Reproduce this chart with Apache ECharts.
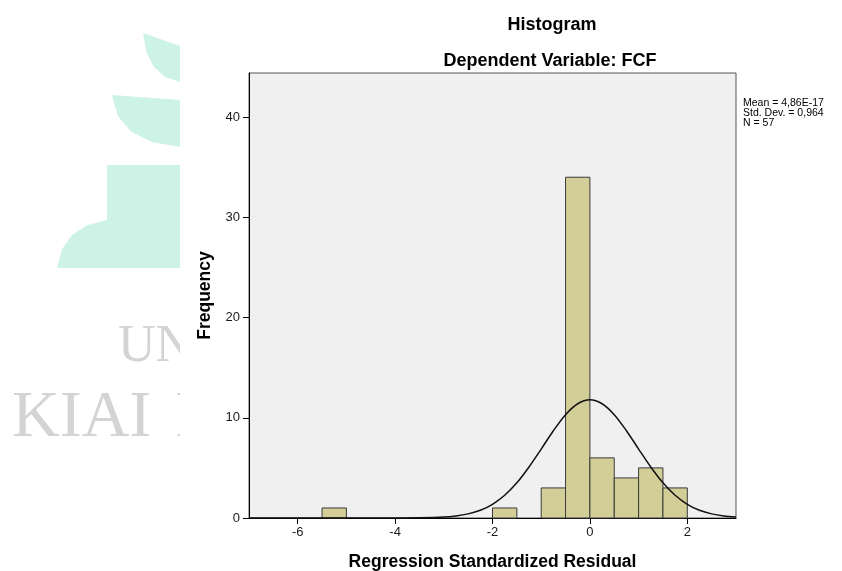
<!DOCTYPE html>
<html>
<head>
<meta charset="utf-8">
<script src="https://cdn.jsdelivr.net/npm/echarts@6/dist/echarts.min.js"></script>
<style>
html,body{margin:0;padding:0;background:#fff;}
#c{width:842px;height:571px;}
</style>
</head>
<body>
<div id="c"></div>
<script>
// Histogram bins (regression standardized residual) and frequencies
var binStart = [-5.5, -2.0, -1.0, -0.5, 0.0, 0.5, 1.0, 1.5];
var binEnd   = [-5.0, -1.5, -0.5,  0.0, 0.5, 1.0, 1.5, 2.0];
var counts   = [1, 1, 3, 34, 6, 4, 5, 3];

// Normal curve points
var curveX = [-7, -6, -5, -4.5, -4, -3.5, -3, -2.75, -2.5, -2.25, -2, -1.75, -1.5, -1.25, -1, -0.75, -0.5, -0.25, 0, 0.25, 0.5, 0.75, 1, 1.25, 1.5, 1.75, 2, 2.25, 2.5, 2.75, 3];
var curveY = [0, 0, 0, 0, 0.002, 0.02, 0.09, 0.2, 0.41, 0.77, 1.37, 2.27, 3.51, 5.09, 6.88, 8.71, 10.31, 11.4, 11.79, 11.4, 10.31, 8.71, 6.88, 5.09, 3.51, 2.27, 1.37, 0.77, 0.41, 0.2, 0.09];

var xTicks = [-6, -4, -2, 0, 2];
var yTicks = [0, 10, 20, 30, 40];

var titleText = 'Histogram';
var subTitleText = 'Dependent Variable: FCF';
var xName = 'Regression Standardized Residual';
var yName = 'Frequency';
var statsText = ['Mean = 4,86E-17', 'Std. Dev. = 0,964', 'N = 57'];

var barData = binStart.map(function (s, i) { return [s, binEnd[i], counts[i]]; });
var curveData = curveX.map(function (x, i) { return [x, curveY[i]]; });

var FONT = '"Liberation Sans", Arial, sans-serif';
var SERIF = '"Liberation Serif", "Times New Roman", serif';
var teal = '#cdf2e6';
var grey = '#d4d4d4';

var chart = echarts.init(document.getElementById('c'), null, {renderer: 'canvas'});
chart.setOption({
  backgroundColor: '#ffffff',
  animation: false,
  title: [
    {text: titleText, left: 547, top: 11, textAlign: 'center',
     textStyle: {fontFamily: FONT, fontSize: 18, fontWeight: 'bold', color: '#000'}},
    {text: subTitleText, left: 545, top: 47, textAlign: 'center',
     textStyle: {fontFamily: FONT, fontSize: 18, fontWeight: 'bold', color: '#000'}}
  ],
  graphic: [
    // faded logo watermark on the left
    {type: 'polygon', z: -20, shape: {points: [[143,33],[180,46],[180,82],[164.9,76.7],[153.8,66.8],[146.4,52.2]]}, style: {fill: teal}},
    {type: 'polygon', z: -20, shape: {points: [[112,95],[180,100],[180,147],[151.8,141.9],[131,131.5],[117.8,115.9]]}, style: {fill: teal}},
    {type: 'polygon', z: -20, shape: {points: [[107,165],[180,165],[180,268],[57,268],[62,249.3],[72,235],[87,225.3],[107,220]]}, style: {fill: teal}},
    {type: 'text', z: -20, x: 118, y: 347, style: {text: 'UN', font: '52px ' + SERIF, fill: grey, textVerticalAlign: 'middle'}},
    {type: 'text', z: -20, x: 12, y: 419, style: {text: 'KIAI', font: '66px ' + SERIF, fill: grey, textVerticalAlign: 'middle'}},
    {type: 'text', z: -20, x: 175, y: 419, style: {text: 'I', font: '66px ' + SERIF, fill: grey, textVerticalAlign: 'middle'}},
    {type: 'rect', z: -10, shape: {x: 180, y: 0, width: 662, height: 571}, style: {fill: '#ffffff'}},
    {type: 'text', x: 743, y: 98, style: {text: statsText.join('\n'), font: '10.5px ' + FONT, lineHeight: 10, fill: '#000'}}
  ],
  grid: {left: 249, right: 106, top: 73, bottom: 53, show: true, outerBoundsMode: 'none', containLabel: false,
         backgroundColor: '#f0f0f0', borderColor: '#555', borderWidth: 1},
  xAxis: {
    type: 'value', min: -7, max: 3,
    name: xName, nameLocation: 'middle', nameGap: 35,
    nameTextStyle: {fontFamily: FONT, fontSize: 17.5, fontWeight: 'bold', color: '#000'},
    axisLine: {show: true, onZero: false, lineStyle: {color: '#000', width: 1}},
    axisTick: {show: true, length: 6, customValues: xTicks, lineStyle: {color: '#000'}},
    axisLabel: {customValues: xTicks, fontFamily: FONT, fontSize: 13, color: '#1a1a1a', margin: 8},
    splitLine: {show: false}
  },
  yAxis: {
    type: 'value', min: 0, max: 44.4,
    name: yName, nameLocation: 'middle', nameGap: 32, nameRotate: 90,
    nameTextStyle: {fontFamily: FONT, fontSize: 17.5, fontWeight: 'bold', color: '#000'},
    axisLine: {show: true, onZero: false, lineStyle: {color: '#000', width: 1}},
    axisTick: {show: true, length: 6, customValues: yTicks, lineStyle: {color: '#000'}},
    axisLabel: {customValues: yTicks, fontFamily: FONT, fontSize: 13, color: '#1a1a1a', margin: 9},
    splitLine: {show: false}
  },
  series: [
    {
      type: 'custom',
      data: barData,
      encode: {x: [0, 1], y: 2},
      renderItem: function (params, api) {
        var p0 = api.coord([api.value(0), api.value(2)]);
        var p1 = api.coord([api.value(1), 0]);
        return {
          type: 'rect',
          shape: {x: p0[0], y: p0[1], width: p1[0] - p0[0], height: p1[1] - p0[1]},
          style: {fill: '#d3ce98', stroke: '#3a3a3a', lineWidth: 1}
        };
      },
      z: 2
    },
    {
      type: 'line',
      data: curveData,
      smooth: 0.3,
      showSymbol: false,
      symbol: 'none',
      lineStyle: {color: '#111', width: 1.5},
      z: 3
    }
  ]
});
</script>
</body>
</html>
